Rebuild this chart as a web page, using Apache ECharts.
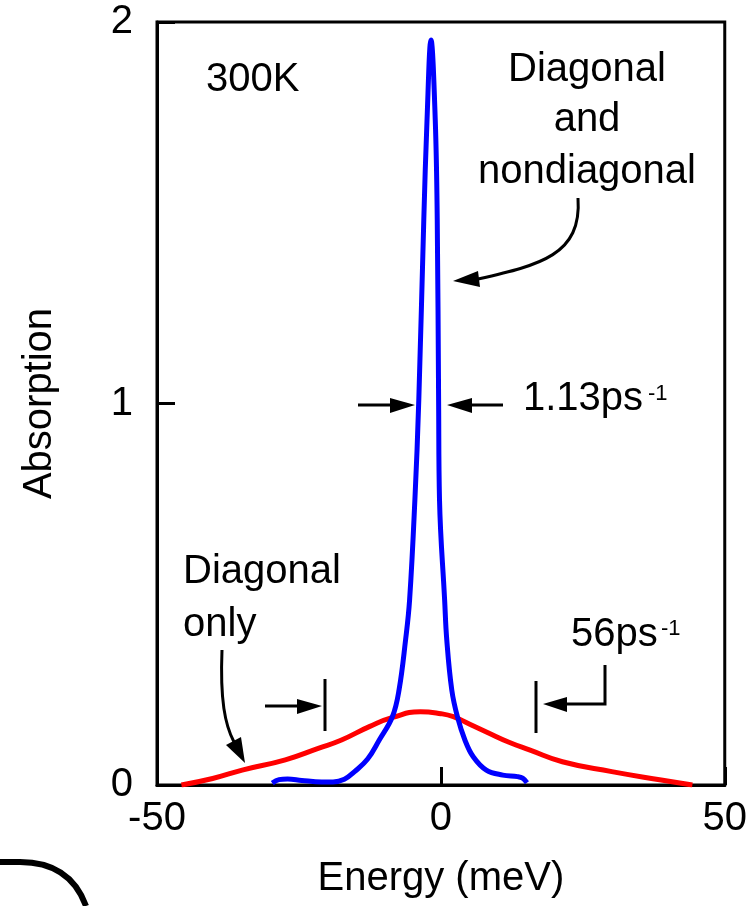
<!DOCTYPE html>
<html>
<head>
<meta charset="utf-8">
<script src="https://cdn.jsdelivr.net/npm/echarts@6/dist/echarts.min.js"></script>
<style>html,body{margin:0;padding:0;background:#fff}#c{width:750px;height:906px}</style>
</head>
<body>
<div id="c"></div>
<script>
// Energy (meV), absorption values
const xTicks = [-50, 0, 50];
const yTicks = [0, 1, 2];
const blueEnergy = [-29.7, -28.5, -27.0, -24.5, -21.0, -19.0, -17.0, -15.2, -12.9, -10.85, -8.54, -7.37, -6.22, -5.51, -4.58, -3.89, -3.01, -2.44, -1.74, -0.99, -0.64, -0.40, -0.24, 0.66, 1.04, 1.92, 2.91, 4.23, 5.7, 8.0, 10.9, 13.5, 14.4, 15.16];
const blueAbs = [0.005, 0.014, 0.016, 0.012, 0.008, 0.008, 0.015, 0.035, 0.068, 0.118, 0.179, 0.249, 0.380, 0.485, 0.747, 1.009, 1.481, 1.743, 1.953, 1.743, 1.481, 1.009, 0.747, 0.485, 0.380, 0.249, 0.179, 0.118, 0.074, 0.039, 0.026, 0.022, 0.018, 0.006];
const redEnergy = [-45.7, -40.2, -35.0, -27.4, -21.6, -17.5, -12.6, -8.5, -3.6, 0.0, 2.2, 5.0, 8.3, 12.0, 15.6, 21.4, 30.1, 38.8, 44.3];
const redAbs = [0.0, 0.017, 0.039, 0.066, 0.096, 0.118, 0.153, 0.177, 0.192, 0.187, 0.179, 0.160, 0.137, 0.112, 0.092, 0.061, 0.035, 0.013, 0.0];

const FONT = '"Liberation Sans", Arial, sans-serif';
const chart = echarts.init(document.getElementById('c'), null, {renderer: 'canvas'});
const blueData = blueEnergy.map((e, i) => [e, blueAbs[i]]);
const redData = redEnergy.map((e, i) => [e, redAbs[i]]);

function txt(x, y, s, size, align) {
  return {type: 'text', x: x, y: y, style: {text: s, fontSize: size, fontFamily: FONT, fill: '#000', align: align || 'left', verticalAlign: 'middle'}};
}
function line(pts, w) {
  return {type: 'polyline', shape: {points: pts}, style: {stroke: '#000', lineWidth: w || 3, fill: null}};
}
function poly(pts) {
  return {type: 'polygon', shape: {points: pts}, style: {fill: '#000'}};
}
function curve(s, w) {
  return {type: 'bezierCurve', shape: s, style: {stroke: '#000', lineWidth: w || 3, fill: null}};
}

const option = {
  animation: false,
  backgroundColor: '#fff',
  grid: {left: 157, right: 19, top: 22, bottom: 121, show: true, borderColor: '#000', borderWidth: 3, containLabel: false},
  xAxis: {
    type: 'value', min: xTicks[0], max: xTicks[xTicks.length - 1], interval: 50,
    name: 'Energy (meV)', nameLocation: 'middle', nameGap: 74,
    nameTextStyle: {fontSize: 40, fontFamily: FONT, color: '#000'},
    axisLine: {onZero: false, lineStyle: {color: '#000', width: 3}},
    axisTick: {inside: true, length: 18, lineStyle: {color: '#000', width: 3}},
    axisLabel: {fontSize: 40, fontFamily: FONT, color: '#000', margin: 14},
    splitLine: {show: false}
  },
  yAxis: {
    type: 'value', min: yTicks[0], max: yTicks[yTicks.length - 1], interval: 1,
    name: 'Absorption', nameLocation: 'middle', nameGap: 97, nameRotate: 90,
    nameTextStyle: {fontSize: 40, fontFamily: FONT, color: '#000'},
    axisLine: {onZero: false, lineStyle: {color: '#000', width: 3}},
    axisTick: {inside: true, length: 18, lineStyle: {color: '#000', width: 3}},
    axisLabel: {fontSize: 40, fontFamily: FONT, color: '#000', margin: 24},
    splitLine: {show: false}
  },
  series: [
    {type: 'line', data: redData, showSymbol: false, smooth: 0.5, lineStyle: {color: '#ff0000', width: 5}, z: 3},
    {type: 'line', data: blueData, showSymbol: false, smooth: 0.4, lineStyle: {color: '#0000ff', width: 5}, z: 4}
  ],
  graphic: [
    txt(206, 80, '300K', 40),
    txt(587, 70, 'Diagonal', 40, 'center'),
    txt(587, 120, 'and', 40, 'center'),
    txt(587, 172, 'nondiagonal', 40, 'center'),
    curve({x1: 578, y1: 198, cpx1: 582, cpy1: 255, cpx2: 540, cpy2: 265, x2: 478, y2: 279}),
    poly([[453, 281], [478, 271], [480, 287]]),
    line([[358, 405], [392, 405]]),
    poly([[415, 405], [390, 398], [390, 413]]),
    line([[503, 405], [470, 405]]),
    poly([[447, 405], [472, 398], [472, 413]]),
    txt(523, 399, '1.13ps', 40),
    txt(648, 394, '-1', 22),
    txt(183, 572, 'Diagonal', 40),
    txt(183, 625, 'only', 40),
    curve({x1: 222, y1: 650, cpx1: 220, cpy1: 700, cpx2: 225, cpy2: 725, x2: 234, y2: 742}),
    poly([[245, 763], [226, 745], [241, 737]]),
    line([[265, 706], [300, 706]]),
    poly([[322, 706], [297, 699], [297, 714]]),
    line([[325, 679], [325, 731]]),
    line([[536, 681], [536, 733]]),
    poly([[543, 704], [567, 697], [567, 712]]),
    line([[565, 704], [605, 704], [605, 665]]),
    txt(571, 635, '56ps', 40),
    txt(661, 629, '-1', 22),
    line([[0, 862], [20, 862]], 6),
    curve({x1: 20, y1: 862, cpx1: 70, cpy1: 862, x2: 86, y2: 906}, 6)
  ]
};
chart.setOption(option);
</script>
</body>
</html>
